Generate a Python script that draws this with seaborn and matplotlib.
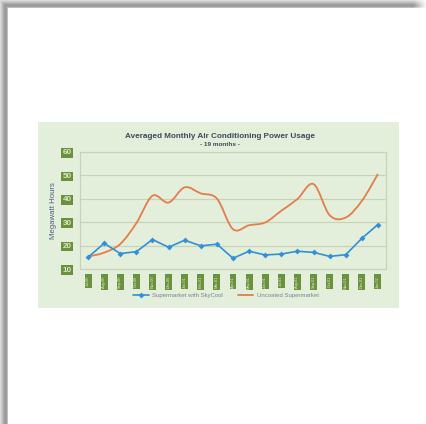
import numpy as np
import pandas as pd
import matplotlib
matplotlib.use("Agg")
import matplotlib.pyplot as plt
from matplotlib.path import Path
from matplotlib.patches import PathPatch, Rectangle
from matplotlib.lines import Line2D
import seaborn as sns

# ---- data -------------------------------------------------------------
months = ["Jul-00", "Aug-00", "Sep-00", "Oct-00", "Nov-00", "Dec-00", "Jan-01",
          "Feb-01", "Mar-01", "Apr-01", "May-01", "Jun-01", "Jul-01", "Aug-01",
          "Sep-01", "Oct-01", "Nov-01", "Dec-01", "Jan-02"]
skycool = [15.0, 21.0, 16.6, 17.4, 22.6, 19.3, 22.3, 19.9, 20.6, 14.6,
           17.6, 16.0, 16.4, 17.6, 17.1, 15.4, 16.1, 23.1, 29.0]
uncoated = [15.3, 17.0, 20.7, 29.6, 41.3, 38.4, 44.9, 42.3, 40.1, 27.0,
            28.7, 29.9, 34.9, 39.9, 46.3, 33.0, 32.0, 39.1, 50.6]
y_ticks = [10, 20, 30, 40, 50, 60]

W, H = 427, 424
BLUE = "#3290d6"
ORANGE = "#e37d4c"
GRID = "#c7d2b6"
PANEL = "#e3eedb"
TAG = "#6a913b"

sns.set_theme(style="white")
plt.rcParams["font.family"] = ["Liberation Sans", "DejaVu Sans"]

fig = plt.figure(figsize=(W / 100, H / 100), dpi=100)

# page with a soft drop shadow along the top and left edges
page = np.ones((H, W, 3))
prof = np.array([0.86, 0.80, 0.74, 0.68, 0.63, 0.60, 0.62, 0.75])
for i, v in enumerate(prof):
    page[i, i:, :] = np.minimum(page[i, i:, :], v)
    page[i:, i, :] = np.minimum(page[i:, i, :], v)
fade = np.linspace(0, 1, 14)
for k, f in enumerate(fade):
    col = W - 14 + k
    page[:8, col, :] = page[:8, col, :] * (1 - f) + f
fig.figimage(page, 0, 0, zorder=0)

# light green panel behind the chart
fig.patches.append(Rectangle((38 / W, 1 - 308 / H), (399 - 38) / W, (308 - 122) / H,
                             transform=fig.transFigure, facecolor=PANEL,
                             edgecolor="none", zorder=0.5))

ax = fig.add_axes([80 / W, 1 - 269 / H, (386 - 80) / W, (269 - 152) / H])
ax.set_facecolor("none")
ax.set_zorder(2)

df = pd.DataFrame({"idx": np.arange(len(months)), "skycool": skycool, "uncoated": uncoated})

sns.lineplot(data=df, x="idx", y="skycool", ax=ax, color=BLUE, lw=1.2,
             marker="D", markersize=3, markeredgewidth=0, zorder=4)

# smoothed line (Catmull-Rom segments as cubic Bezier curves)
xs = df["idx"].to_numpy(float)
ys = df["uncoated"].to_numpy(float)
verts = [(xs[0], ys[0])]
codes = [Path.MOVETO]
n = len(xs)
for i in range(n - 1):
    p0 = (xs[max(i - 1, 0)], ys[max(i - 1, 0)])
    p1 = (xs[i], ys[i])
    p2 = (xs[i + 1], ys[i + 1])
    p3 = (xs[min(i + 2, n - 1)], ys[min(i + 2, n - 1)])
    c1 = (p1[0] + (p2[0] - p0[0]) / 6, p1[1] + (p2[1] - p0[1]) / 6)
    c2 = (p2[0] - (p3[0] - p1[0]) / 6, p2[1] - (p3[1] - p1[1]) / 6)
    verts += [c1, c2, p2]
    codes += [Path.CURVE4] * 3
ax.add_patch(PathPatch(Path(verts, codes), facecolor="none", edgecolor=ORANGE,
                       lw=1.3, zorder=3))

ax.set_xlim(-0.5, len(months) - 0.5)
ax.set_ylim(10, 60)
ax.set_yticks(y_ticks)
ax.set_yticklabels([str(t) for t in y_ticks], fontsize=5.8, fontweight="bold",
                   color="#dbe8c6")
for lab in ax.get_yticklabels():
    lab.set_bbox(dict(boxstyle="square,pad=0.15", facecolor=TAG, edgecolor="none"))
ax.set_xticks(np.arange(len(months)))
ax.set_xticklabels(months, rotation=90, fontsize=2.8, color="#e6f0d8")
for lab in ax.get_xticklabels():
    lab.set_bbox(dict(boxstyle="square,pad=0.38", facecolor=TAG, edgecolor="none"))
ax.tick_params(axis="y", length=0, pad=6)
ax.tick_params(axis="x", length=0, pad=5)
ax.set_xlabel("")
ax.set_ylabel("Megawatt Hours", fontsize=5.6, color="#4a5f7c", labelpad=4)

ax.yaxis.grid(True, color=GRID, lw=0.8)
ax.xaxis.grid(False)
for s in ax.spines.values():
    s.set_color(GRID)
    s.set_linewidth(0.8)

fig.text(220 / W, 1 - 137 / H, "Averaged Monthly Air Conditioning Power Usage",
         ha="center", va="center", fontsize=5.9, fontweight="bold", color="#3e4a59")
fig.text(220 / W, 1 - 145 / H, "- 19 months -", ha="center", va="center",
         fontsize=4.6, fontweight="bold", color="#3e4a59")

handles = [Line2D([], [], color=BLUE, lw=1.2, marker="D", markersize=3, markeredgewidth=0),
           Line2D([], [], color=ORANGE, lw=1.3)]
fig.legend(handles, ["Supermarket with SkyCool", "Uncoated Supermarket"],
           loc="center", bbox_to_anchor=(226 / W, 1 - 295 / H), ncol=2, frameon=False,
           fontsize=4.3, labelcolor="#7a8290", handlelength=2.6, columnspacing=2.5,
           handletextpad=0.6)

fig.savefig("out.png", dpi=100)
